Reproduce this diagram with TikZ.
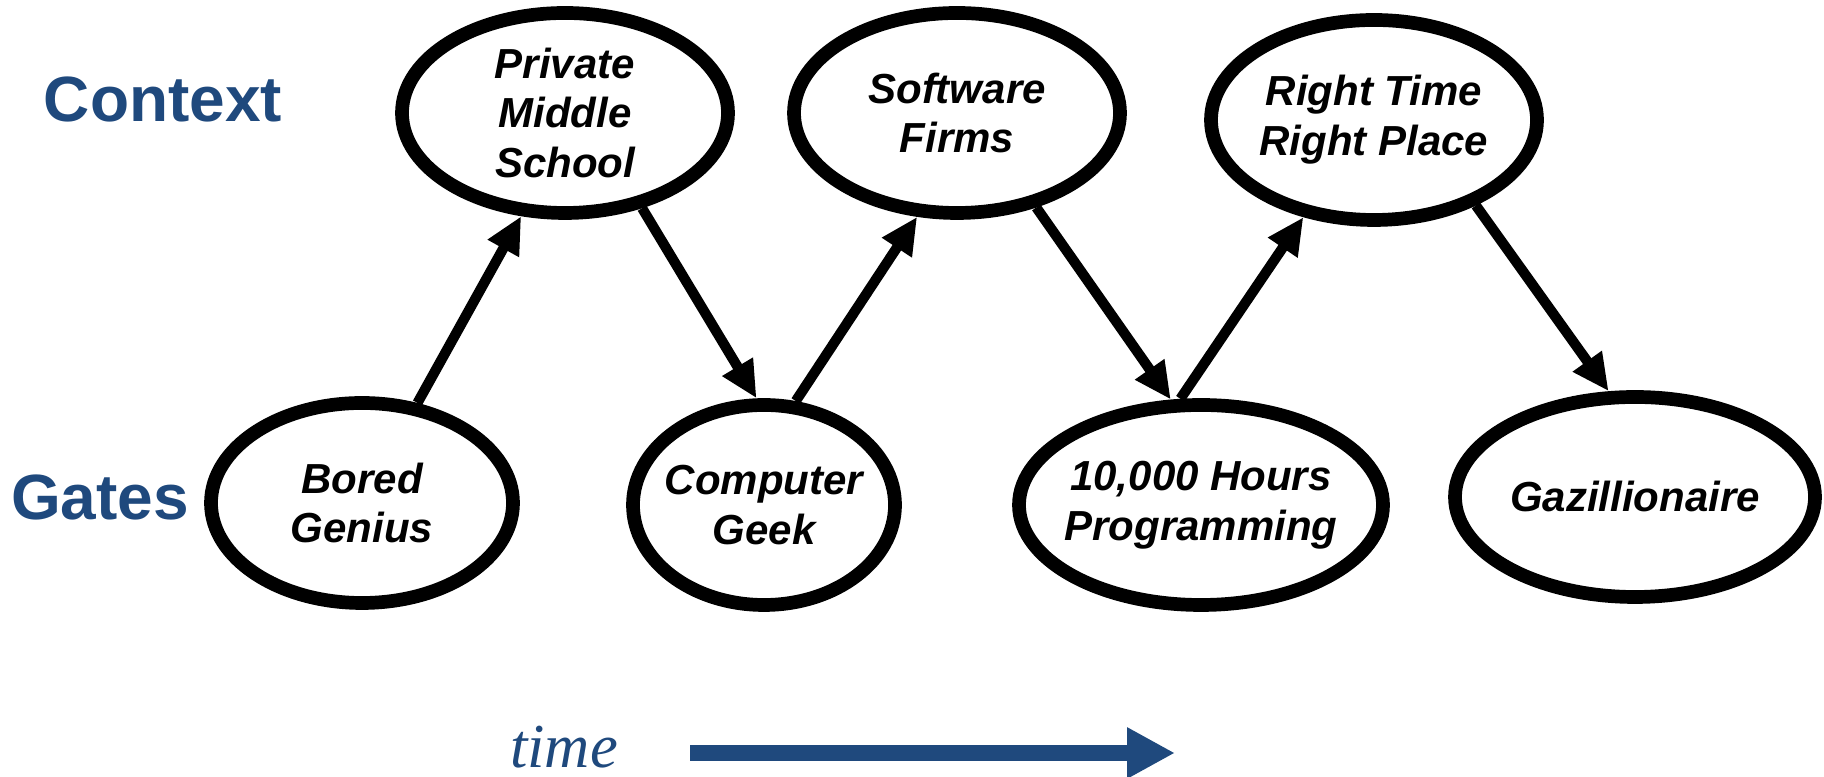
\documentclass[tikz,border=0pt]{standalone}
\usepackage{fontspec}
\setmainfont{Liberation Sans}
\newfontfamily\serifit{Liberation Serif}
\usetikzlibrary{shapes.geometric}
\usetikzlibrary{arrows.meta}
\definecolor{slideblue}{RGB}{31,73,125}

\begin{document}
\begin{tikzpicture}[
    stage/.style={ellipse, draw, line width=3.9pt, inner xsep=-1cm, inner ysep=0pt,
      minimum height=2.0cm, align=center,
      font=\fontsize{11.95}{14.2}\selectfont\bfseries\itshape},
    link/.style={-{Triangle[length=10.5pt,width=9.5pt]}, line width=2.9pt},
    rowlabel/.style={anchor=base, text=slideblue, font=\fontsize{18.2}{22}\selectfont\bfseries}]
      \useasboundingbox (0,0) rectangle (18.24,7.77);

      %ROW LABELS
      \node[rowlabel] (context) at (1.63,6.55) {Context};
      \node[rowlabel] (gates) at (1.00,2.57) {Gates};

      %CONTEXT ROW
      \node[stage, minimum width=3.26cm] (school) at (5.65,6.64) {Private\\Middle\\School};
      \node[stage, minimum width=3.26cm] (firms) at (9.57,6.64) {Software\\Firms};
      \node[stage, minimum width=3.26cm] (luck) at (13.74,6.57) {Right Time\\Right Place};

      %GATES ROW
      \node[stage, minimum width=3.02cm] (genius) at (3.62,2.74) {Bored\\Genius};
      \node[stage, minimum width=2.62cm] (geek) at (7.64,2.72) {Computer\\Geek};
      \node[stage, minimum width=3.64cm] (hours) at (12.01,2.72) {10,000 Hours\\Programming};
      \node[stage, minimum width=3.60cm] (rich) at (16.35,2.80) {Gazillionaire};

      %ZIGZAG
      \draw[link] (genius.61) -- (school.-113);
      \draw[link] (school.-51) -- (geek.94);
      \draw[link] (geek.73) -- (firms.-111);
      \draw[link] (firms.-50) -- (hours.106);
      \draw[link] (hours.101) -- (luck.-126);
      \draw[link] (luck.-40) -- (rich.104);

      %TIME AXIS
      \node[anchor=base, text=slideblue, font=\fontsize{17.8}{20}\selectfont\serifit\itshape] (time) at (5.64,0.09) {time};
      \coordinate (tstart) at (6.90,0.24);
      \coordinate (tend) at (11.75,0.24);
      \draw[slideblue, line width=4.55pt, -{Triangle[length=0.48cm,width=0.48cm]}] (tstart) -- (tend);
\end{tikzpicture}
\end{document}
